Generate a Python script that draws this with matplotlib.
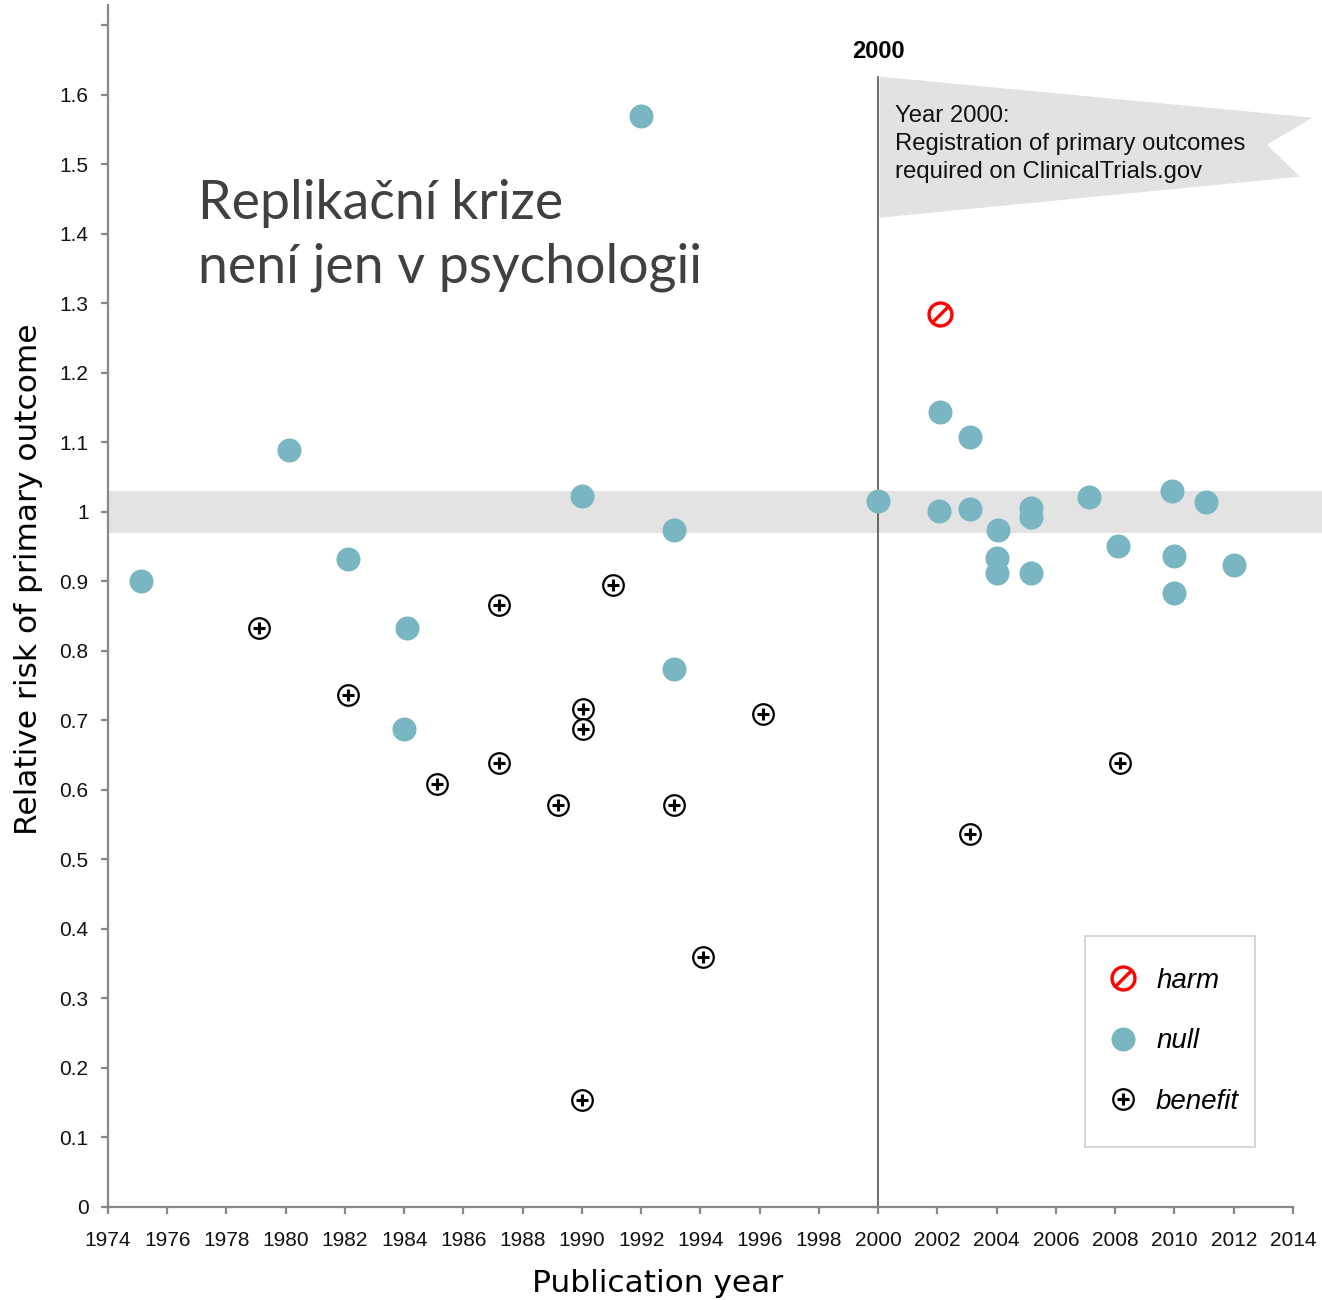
import matplotlib
matplotlib.use("Agg")
import matplotlib.pyplot as plt
from matplotlib.lines import Line2D
from matplotlib.path import Path
from matplotlib.patches import Polygon
from matplotlib.legend_handler import HandlerTuple

# ---------------- data ----------------
null_years = [1975.1, 1980.1, 1982.1, 1984.1, 1984.0, 1990.0, 1992.0, 1993.1, 1993.1,
              2000.0, 2002.1, 2002.05, 2003.1, 2003.1, 2004.05, 2004.0, 2004.0,
              2005.15, 2005.15, 2005.15, 2007.1, 2008.1, 2009.9, 2010.0, 2010.0,
              2011.05, 2012.0]
null_rr = [0.901, 1.089, 0.932, 0.833, 0.688, 1.023, 1.570, 0.974, 0.774,
           1.016, 1.144, 1.001, 1.108, 1.004, 0.974, 0.934, 0.912,
           1.006, 0.993, 0.912, 1.022, 0.951, 1.030, 0.937, 0.883,
           1.014, 0.924]

harm_years = [2002.1]
harm_rr = [1.285]

benefit_years = [1979.1, 1982.1, 1985.1, 1987.2, 1987.2, 1989.2, 1990.05, 1990.05, 1990.0,
                 1991.05, 1993.1, 1994.1, 1996.1, 2003.1, 2008.15]
benefit_rr = [0.833, 0.737, 0.609, 0.866, 0.639, 0.578, 0.717, 0.688, 0.154,
              0.895, 0.578, 0.360, 0.709, 0.537, 0.639]

x_ticks = list(range(1974, 2015, 2))
y_ticks = [0, 0.1, 0.2, 0.3, 0.4, 0.5, 0.6, 0.7, 0.8, 0.9, 1.0, 1.1, 1.2, 1.3, 1.4, 1.5, 1.6, 1.7]
y_ticklabels = ["0", "0.1", "0.2", "0.3", "0.4", "0.5", "0.6", "0.7", "0.8", "0.9", "1",
                "1.1", "1.2", "1.3", "1.4", "1.5", "1.6", ""]

band_low, band_high = 0.97, 1.03
registration_year = 2000
flag_x = [2000.05, 2014.67, 2013.12, 2014.24, 2000.05]
flag_y = [1.626, 1.567, 1.528, 1.482, 1.423]

title_text = "Replikační krize\nnení jen v psychologii"
flag_text = "Year 2000:\nRegistration of primary outcomes\nrequired on ClinicalTrials.gov"

# ---------------- style ----------------
NULL_COLOR = "#79B6C1"
GRAY = "#888888"
SANS = ["Liberation Sans", "DejaVu Sans"]

fig = plt.figure(figsize=(13.22, 13.0), dpi=100)
W, H = 1322, 1300
ax = fig.add_axes([108 / W, 1 - 1207 / H, 1214 / W, 1202 / H])
ax.set_xlim(1974, 2014.98)
ax.set_ylim(0, 1.729)

# band around RR = 1
ax.axhspan(band_low, band_high, color="#e3e3e3", zorder=0, lw=0)

# vertical line at 2000 and the flag
ax.plot([registration_year, registration_year], [0, flag_y[0]], color="#444444", lw=1.1, zorder=2)
ax.add_patch(Polygon(list(zip(flag_x, flag_y)), closed=True, facecolor="#e2e2e2",
                     edgecolor="none", zorder=1))
fig.text(895 / W, 1 - 105 / H, flag_text, family=SANS, fontsize=17.2, color="#111111",
         va="top", ha="left", linespacing=1.34, zorder=3)
fig.text(878 / W, 1 - 51 / H, "2000", family=SANS, fontsize=17, fontweight="bold",
         ha="center", va="center")

# markers
slash = Path([(-1, -1), (1, 1)], [Path.MOVETO, Path.LINETO])

ax.plot(null_years, null_rr, ls="none", marker="o", ms=17.3, mfc=NULL_COLOR,
        mec="none", zorder=4)
ax.plot(benefit_years, benefit_rr, ls="none", marker="o", ms=14.8, mfc="white",
        mec="black", mew=1.6, zorder=5)
ax.plot(benefit_years, benefit_rr, ls="none", marker="+", ms=8.5, mec="black",
        mew=2.2, zorder=6)
ax.plot(harm_years, harm_rr, ls="none", marker="o", ms=16.5, mfc="white",
        mec="#ff0000", mew=2.4, zorder=5)
ax.plot(harm_years, harm_rr, ls="none", marker=slash, ms=11.5, mec="#ff0000",
        mew=2.4, zorder=6)

# axes styling
for side in ["top", "right"]:
    ax.spines[side].set_visible(False)
for side in ["left", "bottom"]:
    ax.spines[side].set_color(GRAY)
    ax.spines[side].set_linewidth(1.6)
ax.spines["bottom"].set_bounds(1974, 2014)

ax.set_xticks(x_ticks)
ax.set_xticklabels([str(t) for t in x_ticks])
ax.set_yticks(y_ticks)
ax.set_yticklabels(y_ticklabels)
ax.tick_params(axis="both", direction="out", length=5, width=1.6, color=GRAY,
               labelsize=15, labelcolor="#111111")
ax.tick_params(axis="x", pad=12.5)
ax.tick_params(axis="y", pad=9)
for lab in ax.get_xticklabels() + ax.get_yticklabels():
    lab.set_family(SANS)

# axis labels
fig.text(658 / W, 1 - 1283 / H, "Publication year", family="DejaVu Sans",
         fontsize=22.5, ha="center", va="center")
fig.text(29 / W, 1 - 579 / H, "Relative risk of primary outcome", family="DejaVu Sans",
         fontsize=22.5, ha="center", va="center", rotation=90)

# title
fig.text(198 / W, 1 - 179 / H, title_text, family=["Lato", "DejaVu Sans"],
         fontsize=38.6, color="#404040", ha="left", va="top", linespacing=1.37)

# legend
h_harm = (Line2D([], [], ls="none", marker="o", ms=16.5, mfc="white", mec="#ff0000", mew=2.4),
          Line2D([], [], ls="none", marker=slash, ms=11.5, mec="#ff0000", mew=2.4))
h_null = Line2D([], [], ls="none", marker="o", ms=17.3, mfc=NULL_COLOR, mec="none")
h_ben = (Line2D([], [], ls="none", marker="o", ms=14.8, mfc="white", mec="black", mew=1.6),
         Line2D([], [], ls="none", marker="+", ms=8.5, mec="black", mew=2.2))
leg = ax.legend([h_harm, h_null, h_ben], ["harm", "null", "benefit"],
                handler_map={tuple: HandlerTuple(ndivide=1)},
                loc="lower left", bbox_to_anchor=(0.805, 0.05, 0.14, 0.177),
                mode="expand", prop={"family": SANS, "size": 20, "style": "italic"},
                frameon=True, fancybox=False, edgecolor="#d0d0d0", framealpha=1,
                borderpad=1.15, labelspacing=1.25, handlelength=0.4, handletextpad=1.0,
                borderaxespad=0)
leg.get_frame().set_linewidth(1.2)

fig.savefig("out.png", dpi=100)
